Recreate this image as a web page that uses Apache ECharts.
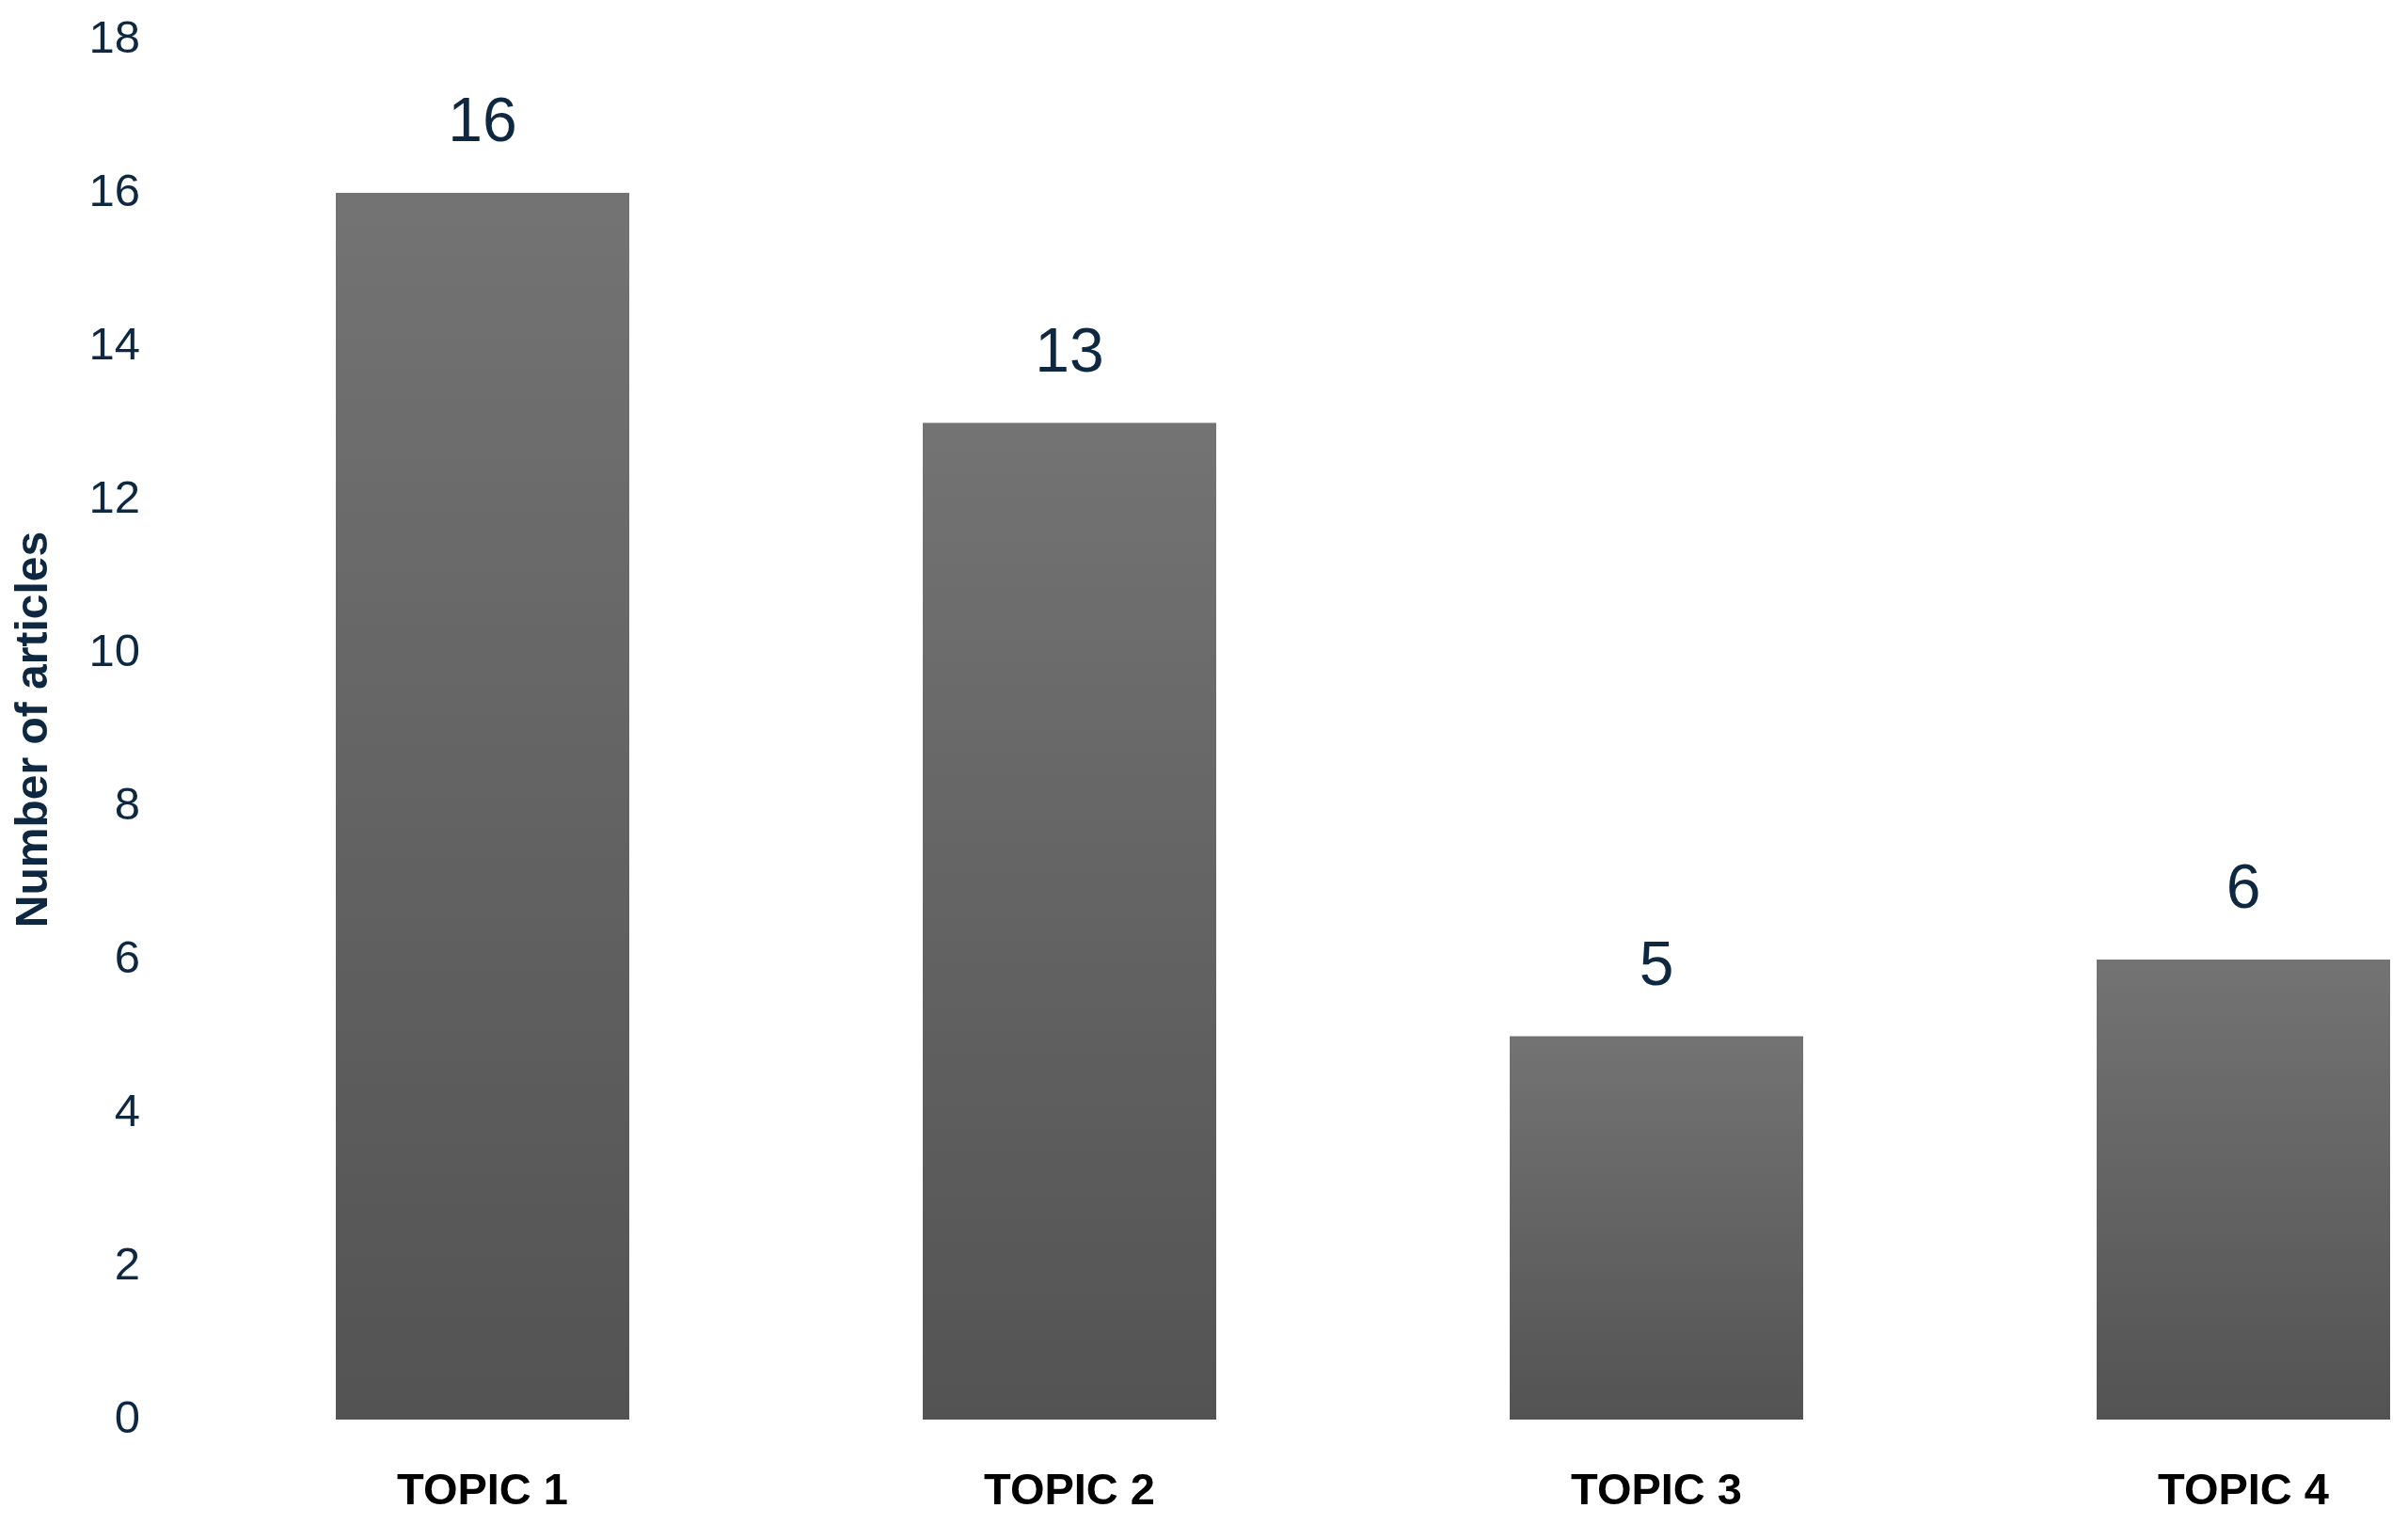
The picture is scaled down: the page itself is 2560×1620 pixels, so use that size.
<!DOCTYPE html>
<html>
<head>
<meta charset="utf-8">
<script src="https://cdn.jsdelivr.net/npm/echarts@6/dist/echarts.min.js"></script>
<style>
  html, body { margin: 0; padding: 0; background: #fff; }
  #chart { width: 2560px; height: 1620px; }
</style>
</head>
<body>
<div id="chart"></div>
<script>
  // data
  var topics = ["TOPIC 1", "TOPIC 2", "TOPIC 3", "TOPIC 4"];
  var articles = [16, 13, 5, 6];
  var yTicks = { min: 0, max: 18, interval: 2 };

  var textDark = "#0e2841";

  var chart = echarts.init(document.getElementById("chart"));
  chart.setOption({
    animation: false,
    backgroundColor: "#fff",
    grid: {
      left: 201,
      top: 42,
      bottom: 111,
      width: 2496,
      containLabel: false,
      outerBoundsMode: "none"
    },
    xAxis: {
      type: "category",
      data: topics,
      axisLine: { show: false },
      axisTick: { show: false },
      splitLine: { show: false },
      axisLabel: {
        color: "#000",
        fontFamily: "Liberation Sans",
        fontWeight: "bold",
        fontSize: 47,
        margin: 54
      }
    },
    yAxis: {
      type: "value",
      min: yTicks.min,
      max: yTicks.max,
      interval: yTicks.interval,
      name: "Number of articles",
      nameLocation: "middle",
      nameGap: 140,
      nameTextStyle: {
        color: textDark,
        fontFamily: "Liberation Sans",
        fontWeight: "bold",
        fontSize: 48
      },
      axisLine: { show: false },
      axisTick: { show: false },
      splitLine: { show: false },
      axisLabel: {
        color: textDark,
        fontFamily: "Liberation Sans",
        fontSize: 49,
        margin: 52,
        padding: [6, 0, 0, 0]
      }
    },
    series: [
      {
        type: "bar",
        data: articles,
        barWidth: "50%",
        itemStyle: {
          color: new echarts.graphic.LinearGradient(0, 0, 0, 1, [
            { offset: 0, color: "#737373" },
            { offset: 1, color: "#535353" }
          ])
        },
        label: {
          show: true,
          position: "top",
          distance: 40,
          color: textDark,
          fontFamily: "Liberation Sans",
          fontSize: 66
        }
      }
    ]
  });
</script>
</body>
</html>
